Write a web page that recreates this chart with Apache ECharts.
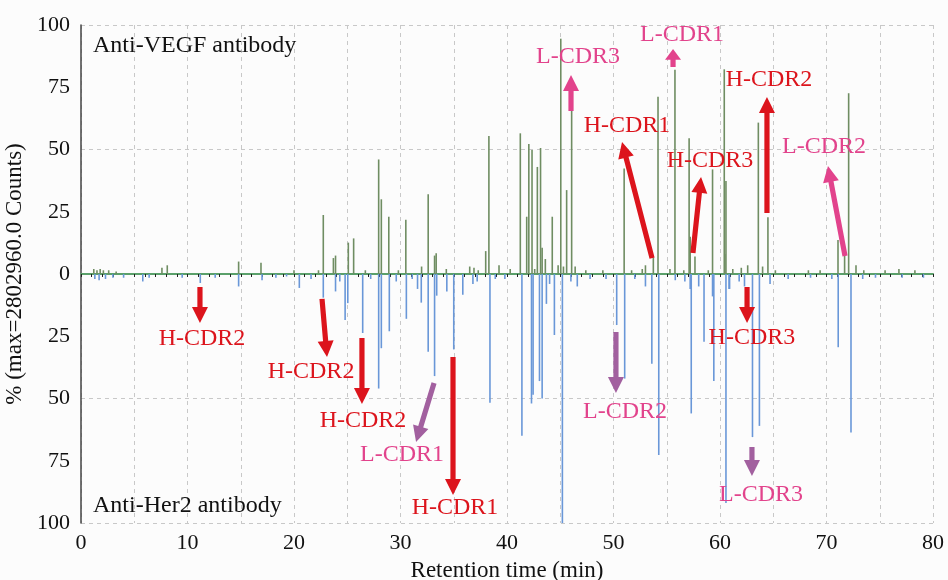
<!DOCTYPE html>
<html>
<head>
<meta charset="utf-8">
<script src="https://cdn.jsdelivr.net/npm/echarts@6/dist/echarts.min.js"></script>
<style>
html,body{margin:0;padding:0;background:#fcfcfc;}
#chart{width:948px;height:580px;}
</style>
</head>
<body>
<div id="chart"></div>
<script>
// ---- Data (retention time in min, relative intensity in %) ----
// Anti-VEGF antibody (upper trace) peak positions and heights
const vegfTimes   = [1.2,1.5,1.8,2.1,2.6,3.3,7.6,8.1,14.8,16.9,20.0,22.3,22.75,23.7,23.9,25.1,25.6,26.7,27.95,28.2,28.9,29.8,30.5,31.98,32.6,33.2,33.35,34.3,36.5,36.9,37.3,38.0,38.3,39.25,40.3,41.25,41.85,42.05,42.35,42.6,42.85,43.15,43.3,43.6,44.25,44.8,45.05,45.3,45.6,46.07,46.4,47.4,49.0,51.0,51.7,52.7,53.0,53.74,54.18,55.3,55.77,56.6,57.1,57.2,57.65,58.9,59.3,60.4,60.45,60.56,61.2,62.0,62.6,63.6,64.0,64.5,65.2,68.3,69.4,71.08,71.7,72.08,72.77,73.5,75.5,76.8,78.3];
const vegfValues  = [2,1.5,2,1.5,1.5,1,2.5,3.5,5,4.5,1.5,1.5,23.7,6.4,7.4,12.6,14.3,1.5,46,30,23,1.5,21.8,3,32,7.4,8.3,2,3,2.5,1.5,9.2,55.4,3.5,2,56.5,23,52.2,49.8,2,43,50.6,10.5,6,23,3.5,94.5,3,33.7,65.5,3,1.5,1.5,42.4,1.5,2,3.5,6.7,71.2,2,82,1.5,54.5,15,7,1.5,42,82.2,8,37.3,2,2.5,3.5,60.8,3,22.8,1.5,1.5,1.5,13.7,7.6,72.6,3.5,1.5,1.5,2,1.5];
// Anti-Her2 antibody (lower trace) peak positions and heights (plotted downward)
const her2Times   = [1.3,1.7,2.3,3.0,4.0,5.8,6.4,9.5,11.2,12.6,14.8,17.0,18.3,19.3,20.5,21.6,22.75,23.9,24.3,24.8,25.05,26.45,27.2,27.95,28.2,28.95,29.6,30.55,31.1,31.6,31.95,32.6,33.2,33.4,34.35,35.0,35.85,36.8,37.2,38.4,38.9,39.8,41.4,42.3,42.45,43.05,43.3,43.7,44.0,44.45,45.2,46.0,46.6,47.8,49.3,50.3,51.05,52.0,53.0,53.6,54.25,55.8,56.7,57.2,57.3,58.0,58.5,59.3,59.42,60.56,60.85,60.9,61.8,62.3,63.05,63.7,64.7,66.4,68.5,70.5,71.1,72.3,73.4,74.6,77.1,79.1];
const her2Values  = [2,2.5,2,1.5,1.5,3,1.5,1.5,3.6,1.5,5,2.5,1.5,1,5.6,2,9.5,7,3,18.5,11.7,23.7,2,46,29.8,23,3,18,2,6,11.5,31.2,41,8.7,7,30.3,8.3,4,3,51.7,2,2,65,52,48.5,43,50,12,4,24.5,100,3,5,2,2,20.5,42,2,5,36,72.7,2.5,3,6,56,5,27.2,9,43,92,6,6,3,5,65.5,61,4,2,1.5,2,29.4,63.7,2,1.5,1.5,1.5];

const xTicks = [0,10,20,30,40,50,60,70,80];
const yTicks = [-100,-75,-50,-25,0,25,50,75,100];

// Annotations (data coordinates): label, arrow tail, arrow tip, label centre, arrow colour kind
const annoLabels = ['L-CDR3','L-CDR1','H-CDR1','H-CDR3','H-CDR2','L-CDR2','H-CDR2','H-CDR2','H-CDR2','L-CDR1','H-CDR1','L-CDR2','H-CDR3','L-CDR3'];
const annoTail   = [[46.01,65.5],[55.59,83.1],[53.62,6.4],[57.46,8.4],[64.41,24.5],[71.74,7.2],[11.17,-5.2],[22.63,-10.0],[26.38,-25.7],[33.15,-43.8],[34.93,-33.3],[50.23,-23.3],[62.54,-5.2],[63.0,-69.5]];
const annoTip    = [[46.01,79.9],[55.59,90.4],[50.8,53.0],[58.22,39.0],[64.41,71.1],[70.14,43.4],[11.17,-19.7],[23.10,-33.3],[26.38,-52.2],[31.46,-67.5],[34.93,-88.8],[50.23,-47.8],[62.54,-19.7],[63.0,-81.1]];
const annoText   = [[46.67,87.1],[56.43,96.0],[51.27,59.4],[59.06,45.4],[64.6,77.9],[69.77,51.0],[11.36,-26.1],[21.6,-39.4],[26.48,-59.0],[30.14,-72.7],[35.12,-94.0],[51.08,-55.4],[63.0,-25.7],[63.85,-88.8]];
const annoArrowKind = ['pink','pink','red','red','red','pink','red','red','red','purple','red','purple','red','purple'];

const RED = '#dc141c', PINK = '#e2438c', PURPLE = '#a2609f';
const FONT = "'Liberation Serif','Times New Roman',serif";

const vegfData = vegfTimes.map((t,i)=>[t, vegfValues[i]]);
const her2Data = her2Times.map((t,i)=>[t, -her2Values[i]]);

const chart = echarts.init(document.getElementById('chart'), null, {renderer:'canvas'});
chart.setOption({
  backgroundColor: '#fcfcfc',
  animation: false,
  grid: {left: 81, right: 15, top: 25, bottom: 57, containLabel: false, outerBoundsMode: 'none'},
  xAxis: [
    {
      type: 'value', min: xTicks[0], max: xTicks[xTicks.length-1], interval: 10,
      name: 'Retention time (min)', nameLocation: 'middle', nameGap: 36,
      nameTextStyle: {fontFamily: FONT, fontSize: 23, color: '#111'},
      axisLine: {show: false}, axisTick: {show: false}, splitLine: {show: false},
      axisLabel: {fontFamily: FONT, fontSize: 22, color: '#111', margin: 9}
    },
    {
      type: 'value', min: 0, max: 80, interval: 5, position: 'bottom',
      axisLine: {show: true, onZero: true, onZeroAxisIndex: 0, lineStyle: {color: '#5aa06a', width: 2}},
      axisTick: {show: true, length: 3, lineStyle: {color: '#222', width: 1}},
      minorTick: {show: true, splitNumber: 5, length: 3, lineStyle: {color: '#222', width: 1}},
      axisLabel: {show: false},
      splitLine: {show: true, lineStyle: {color: '#c8c8c8', type: [4,4], width: 1}}
    }
  ],
  yAxis: [
    {
      type: 'value', min: yTicks[0], max: yTicks[yTicks.length-1], interval: 25,
      name: '% (max=2802960.0 Counts)', nameLocation: 'middle', nameGap: 46, nameRotate: 90,
      nameTextStyle: {fontFamily: FONT, fontSize: 23, color: '#111'},
      axisLine: {show: true, lineStyle: {color: '#444', width: 1.5}},
      axisTick: {show: false},
      splitLine: {show: false},
      axisLabel: {fontFamily: FONT, fontSize: 22, color: '#111', margin: 11,
        formatter: v => String(Math.abs(v))}
    },
    {
      type: 'value', min: -100, max: 100, interval: 50, position: 'left',
      axisLine: {show: false}, axisTick: {show: false}, axisLabel: {show: false},
      splitLine: {show: true, lineStyle: {color: '#c8c8c8', type: [4,4], width: 1}}
    }
  ],
  series: [
    {
      name: 'Anti-VEGF antibody', type: 'bar', xAxisIndex: 0, yAxisIndex: 0,
      data: vegfData, barWidth: 1.6, barGap: '-100%',
      itemStyle: {color: '#6f8d62'}, z: 3
    },
    {
      name: 'Anti-Her2 antibody', type: 'bar', xAxisIndex: 0, yAxisIndex: 0,
      data: her2Data, barWidth: 1.6, barGap: '-100%',
      itemStyle: {color: '#6997d8'}, z: 3
    }
  ]
});

function arrowPoints(t, p) {
  const dx = p[0]-t[0], dy = p[1]-t[1];
  const len = Math.sqrt(dx*dx+dy*dy);
  const ux = dx/len, uy = dy/len;
  const nx = -uy, ny = ux;
  const hl = Math.min(16, len*0.6), hw = 8, sw = 2.6;
  const b = [p[0]-ux*hl, p[1]-uy*hl];
  return [
    [t[0]+nx*sw, t[1]+ny*sw],
    [b[0]+nx*sw, b[1]+ny*sw],
    [b[0]+nx*hw, b[1]+ny*hw],
    [p[0], p[1]],
    [b[0]-nx*hw, b[1]-ny*hw],
    [b[0]-nx*sw, b[1]-ny*sw],
    [t[0]-nx*sw, t[1]-ny*sw]
  ];
}

const toPx = v => chart.convertToPixel({xAxisIndex: 0, yAxisIndex: 0}, v);
const graphics = [];
annoLabels.forEach((lab, i) => {
  const kind = annoArrowKind[i];
  const aColor = kind === 'red' ? RED : (kind === 'pink' ? PINK : PURPLE);
  const tColor = lab.startsWith('H') ? RED : PINK;
  const tail = toPx(annoTail[i]), tip = toPx(annoTip[i]), tp = toPx(annoText[i]);
  graphics.push({type: 'polygon', shape: {points: arrowPoints(tail, tip)}, style: {fill: aColor}, z: 10});
  graphics.push({type: 'text', x: tp[0], y: tp[1], z: 11,
    style: {text: lab, fill: tColor, font: '24px ' + FONT, align: 'center', verticalAlign: 'middle'}});
});
const tl = toPx([0, 100]), bl = toPx([0, -100]);
graphics.push({type: 'text', x: tl[0] + 12, y: tl[1] + 21, z: 11,
  style: {text: 'Anti-VEGF antibody', fill: '#111', font: '24px ' + FONT, align: 'left', verticalAlign: 'middle'}});
graphics.push({type: 'text', x: bl[0] + 12, y: bl[1] - 17, z: 11,
  style: {text: 'Anti-Her2 antibody', fill: '#111', font: '24px ' + FONT, align: 'left', verticalAlign: 'middle'}});
chart.setOption({graphic: graphics});
</script>
</body>
</html>
